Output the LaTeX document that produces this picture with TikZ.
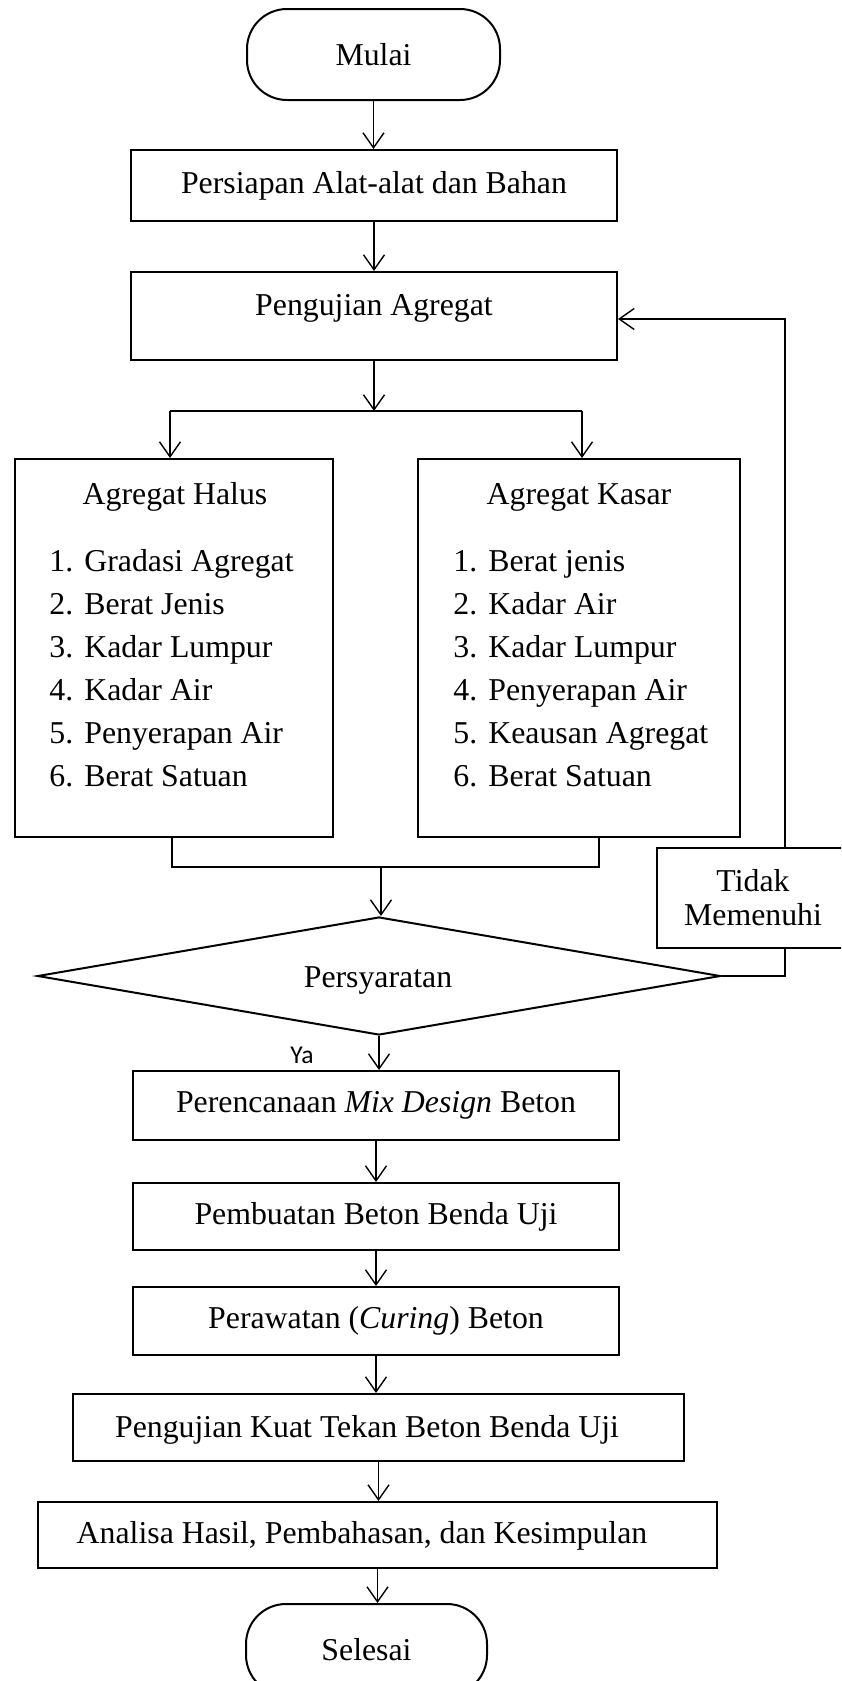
\documentclass[tikz,border=0pt]{standalone}
\usepackage{fontspec}
\setmainfont{Liberation Serif}
\newfontfamily\yafont{Carlito}
\usetikzlibrary{arrows.meta,shapes.geometric}
\begin{document}
\begin{tikzpicture}[x=0.5pt,y=-0.5pt,
 box/.style={draw, line width=1pt, inner sep=0, font=\fontsize{15.9}{19}\selectfont},
 term/.style={box, rounded corners=20pt},
 txt/.style={inner sep=0, font=\fontsize{15.9}{19}\selectfont, text height=0.68em, text depth=0.22em},
 arr/.style={line width=0.7pt, -{Straight Barb[length=7.5pt,width=10.5pt]}},
 ln/.style={line width=0.7pt}]
\useasboundingbox (0,0) rectangle (841,1681);
\clip (0,0) rectangle (841,1681);

\node[term, minimum width=126.5pt, minimum height=45.5pt] (mulai) at (373.5,54.5) {Mulai};
\node[box, minimum width=243pt, minimum height=35.5pt] (persiapan) at (374,185.5) {Persiapan Alat-alat dan Bahan};
\node[box, minimum width=243pt, minimum height=44pt] (pengujian) at (374,316) {};
\node[txt] (pengT) at (374,311) {Pengujian Agregat};

\node[box, minimum width=159pt, minimum height=189pt] (halus) at (174,648) {};
\node[box, minimum width=161pt, minimum height=189pt] (kasar) at (579,648) {};
\node[txt] (halusT) at (175,500) {Agregat Halus};
\node[txt] (kasarT) at (579,500) {Agregat Kasar};
\foreach \i/\t [count=\k from 0] in {1/Gradasi Agregat,2/Berat Jenis,3/Kadar Lumpur,4/Kadar Air,5/Penyerapan Air,6/Berat Satuan}
  \node[txt, anchor=west] (h\i) at (49,567+43*\k) {\makebox[17.5pt][l]{\i.}\t};
\foreach \i/\t [count=\k from 0] in {1/Berat jenis,2/Kadar Air,3/Kadar Lumpur,4/Penyerapan Air,5/Keausan Agregat,6/Berat Satuan}
  \node[txt, anchor=west] (k\i) at (453,567+43*\k) {\makebox[17.5pt][l]{\i.}\t};

\node[draw, diamond, aspect=5.79, minimum width=341.5pt, minimum height=59pt, inner sep=0, line width=1pt] (dia) at (379,976) {};
\node[txt] (diaT) at (378,983) {Persyaratan};
\node[box, minimum width=96pt, minimum height=50pt, align=center, font=\fontsize{15.9}{17}\selectfont] (tidak) at (753,898) {Tidak\\Memenuhi};
\node[inner sep=0, font=\yafont\fontsize{12.8}{15}\selectfont] (ya) at (302,1055) {Ya};

\node[box, minimum width=243pt, minimum height=34.5pt] (mix) at (376,1105.5) {Perencanaan \textit{Mix Design} Beton};
\node[box, minimum width=243pt, minimum height=33.5pt] (buat) at (376,1216.5) {Pembuatan Beton Benda Uji};
\node[box, minimum width=243pt, minimum height=34pt] (rawat) at (376,1321) {Perawatan (\textit{Curing}) Beton};
\node[box, minimum width=305.5pt, minimum height=33.5pt] (kuat) at (378.5,1427.5) {};
\node[txt] (kuatT) at (367,1433) {Pengujian Kuat Tekan Beton Benda Uji};
\node[box, minimum width=339.5pt, minimum height=33pt] (analisa) at (377.5,1535) {};
\node[txt] (analisaT) at (362,1539) {Analisa Hasil, Pembahasan, dan Kesimpulan};
\node[term, minimum width=120.5pt, minimum height=45.5pt] (selesai) at (366.5,1649.5) {Selesai};

% connectors
\draw[arr] (mulai.south) -- (mulai.south |- persiapan.north);
\draw[arr] (persiapan.south) -- (persiapan.south |- pengujian.north);
\coordinate (split) at (374,411);
\coordinate (splitL) at (170,411);
\coordinate (splitR) at (582,411);
\draw[arr] (pengujian.south) -- (split);
\draw[ln] (splitL) -- (splitR);
\draw[arr] (splitL) -- (splitL |- halus.north);
\draw[arr] (splitR) -- (splitR |- kasar.north);

\coordinate (joinL) at (172,867);
\coordinate (joinR) at (599,867);
\coordinate (join) at (381,867);
\draw[ln] (joinL |- halus.south) -- (joinL) -- (joinR) -- (joinR |- kasar.south);
\draw[arr] (join) -- (join |- dia.north);

\coordinate (loopA) at (785,976);
\coordinate (loopB) at (785,319);
\draw[ln] (dia.east) -- (loopA) -- (loopA |- tidak.south);
\draw[arr] (loopA |- tidak.north) -- (loopB) -- (loopB -| pengujian.east);

\draw[arr] (dia.south) -- (dia.south |- mix.north);
\draw[arr] (mix.south) -- (mix.south |- buat.north);
\draw[arr] (buat.south) -- (buat.south |- rawat.north);
\draw[arr] (rawat.south) -- (rawat.south |- kuat.north);
\draw[arr] (kuat.south) -- (kuat.south |- analisa.north);
\draw[arr] (analisa.south) -- (analisa.south |- selesai.north);
\end{tikzpicture}
\end{document}
